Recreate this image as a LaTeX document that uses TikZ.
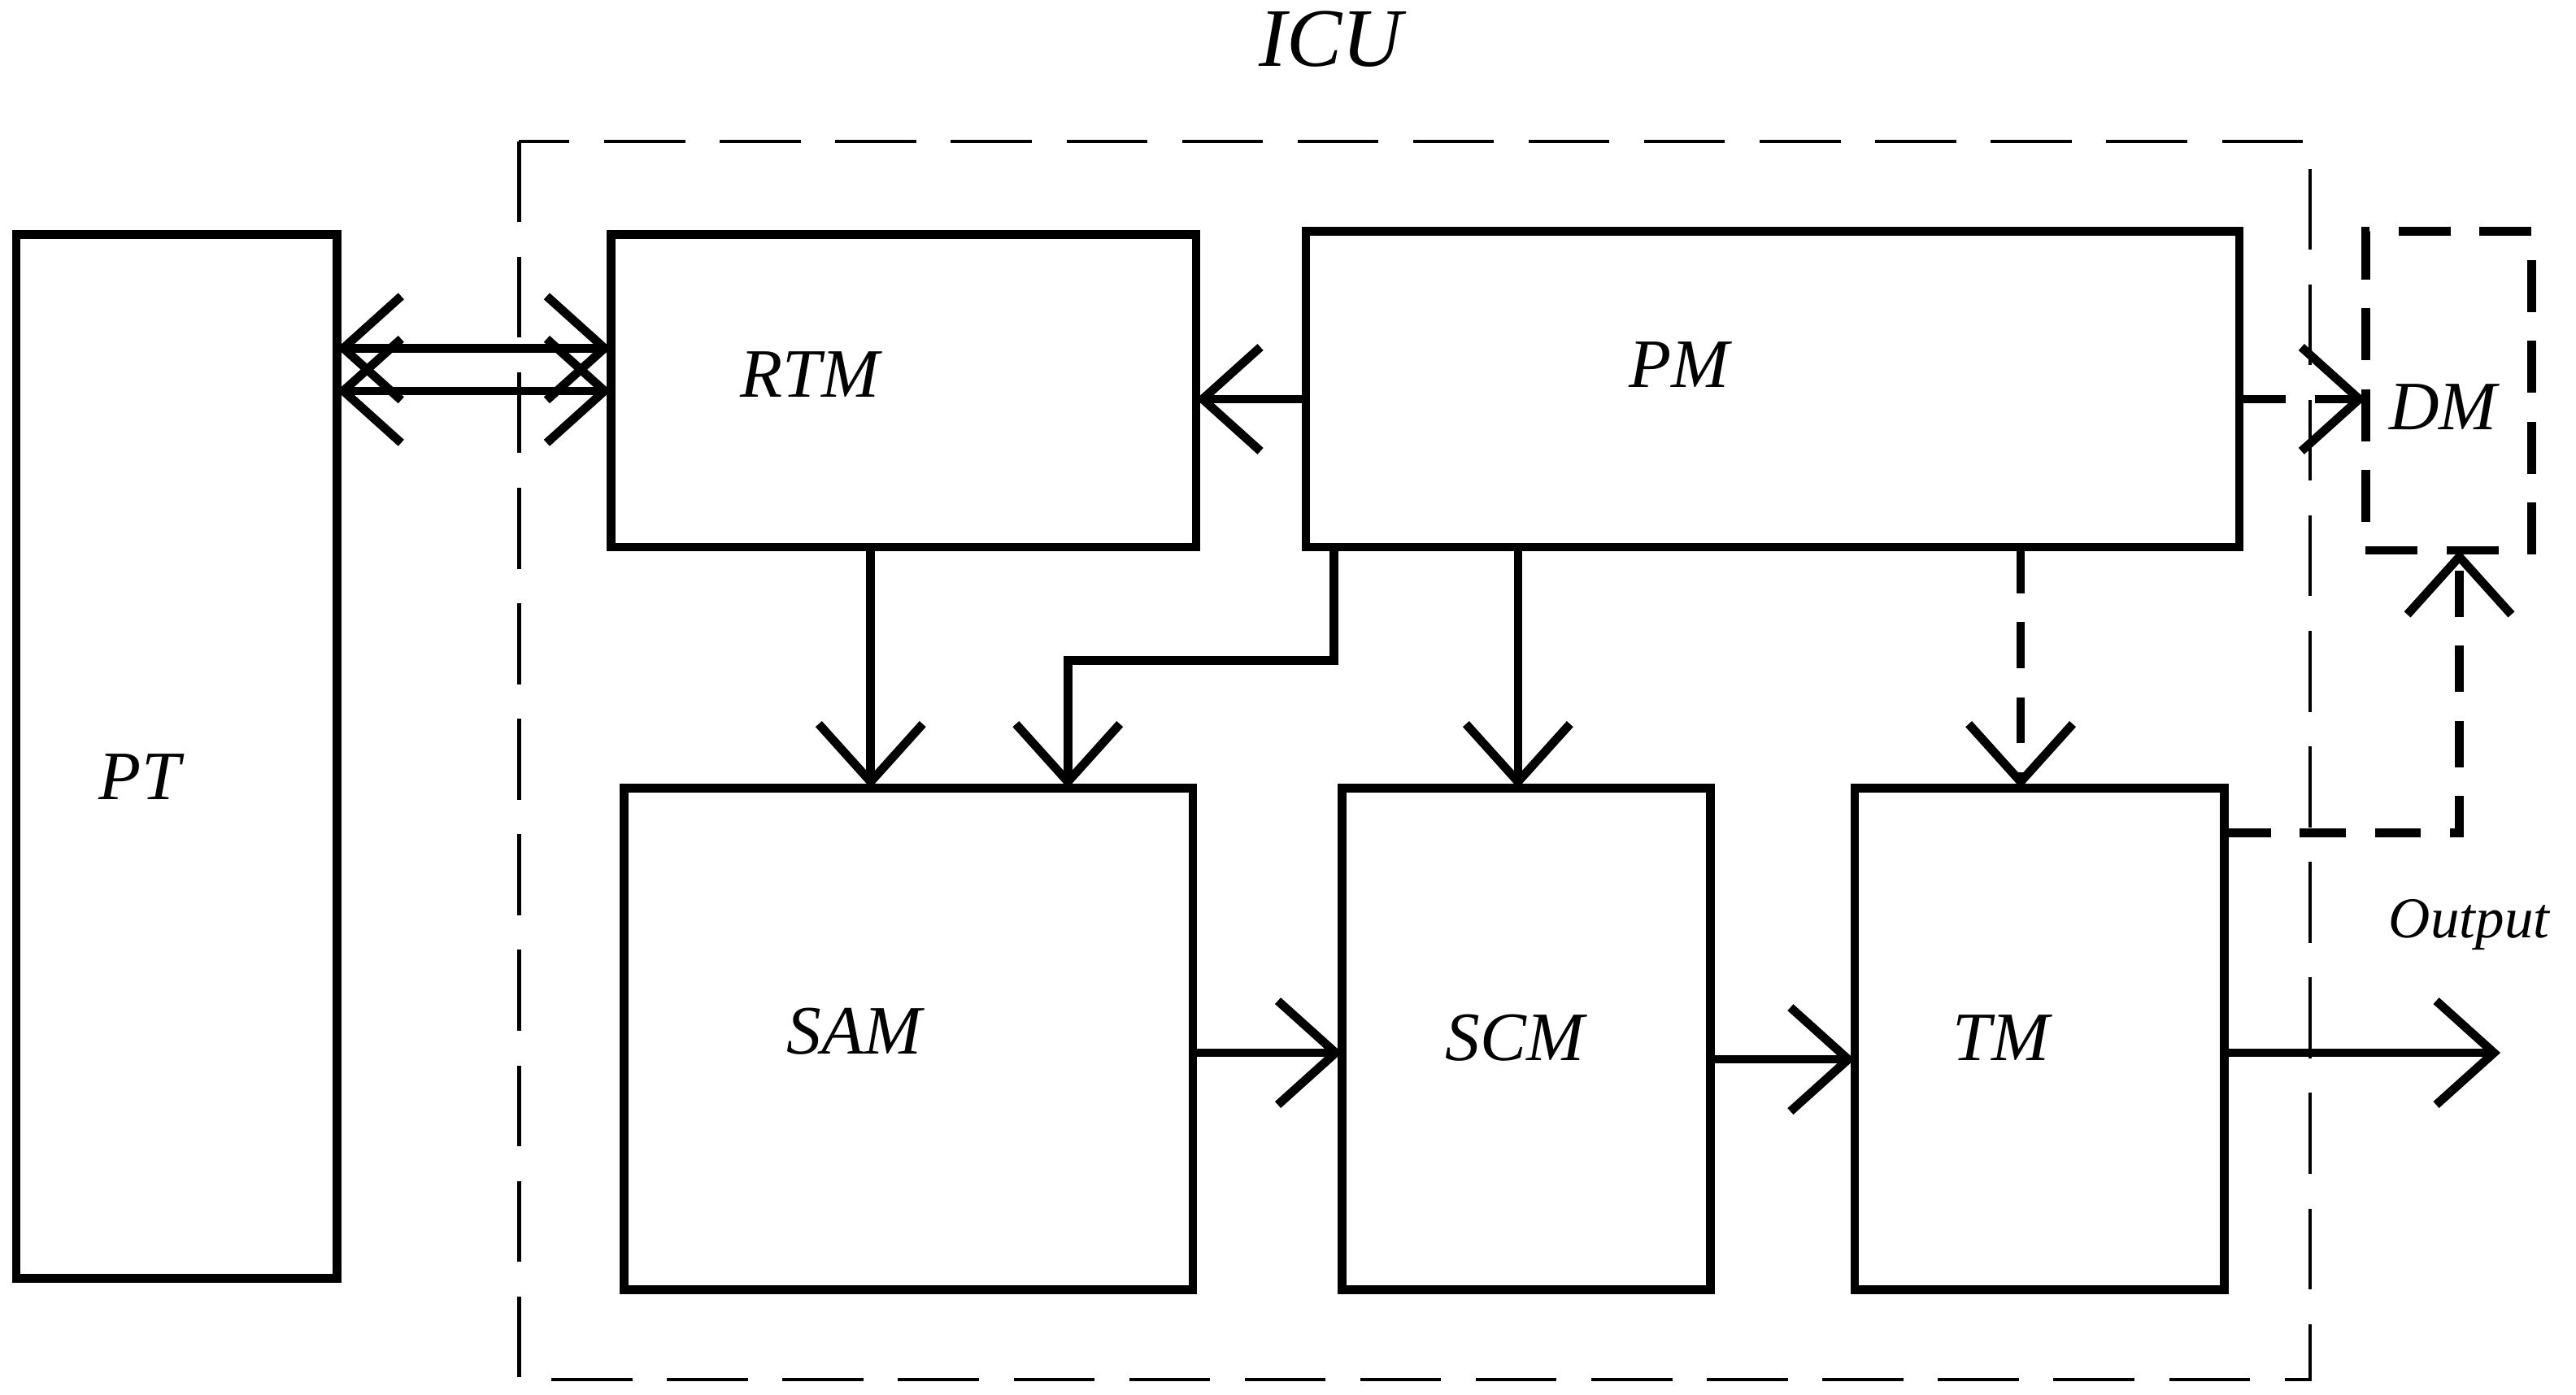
\documentclass[tikz,border=0pt]{standalone}
\usepackage{fontspec}
\setmainfont{Liberation Serif}
\usetikzlibrary{arrows.meta}
\begin{document}
\begin{tikzpicture}[x=0.01cm,y=-0.01cm,
    blk/.style={draw,line width=1.5pt,inner sep=0pt,outer sep=0pt},
    lbl/.style={font=\large\itshape},
    con/.style={line width=1.5pt,-{Straight Barb[length=10pt,width=18pt,line width=1.5pt]}},
    dcon/.style={con,dash pattern=on 8pt off 5pt}]
  \useasboundingbox (0,0) rectangle (1568,849);
  % frame
  \draw[dash pattern=on 14pt off 6pt,line width=0.6pt] (316,86) rectangle (1406,840);
  \node[font=\Large\itshape] (icu) at (810,24) {ICU};
  % blocks
  \node[blk,minimum width=1.95cm,minimum height=6.35cm] (pt) at (107.5,460.5) {};
  \node[blk,minimum width=3.56cm,minimum height=1.90cm] (rtm) at (550,238) {};
  \node[blk,minimum width=5.68cm,minimum height=1.92cm] (pm) at (1079,237) {};
  \node[blk,dash pattern=on 9pt off 5pt,minimum width=1.01cm,minimum height=1.94cm] (dm) at (1490.5,238) {};
  \node[blk,minimum width=3.46cm,minimum height=3.05cm] (sam) at (553,632.5) {};
  \node[blk,minimum width=2.24cm,minimum height=3.05cm] (scm) at (929,632.5) {};
  \node[blk,minimum width=2.25cm,minimum height=3.05cm] (tm) at (1241.5,632.5) {};
  % labels
  \node[lbl] (ptl) at (85,473) {PT};
  \node[lbl] (rtml) at (493,228) {RTM};
  \node[lbl] (pml) at (1022,222) {PM};
  \node[lbl] (dml) at (1487,248) {DM};
  \node[lbl] (saml) at (520,628) {SAM};
  \node[lbl] (scml) at (922,632) {SCM};
  \node[lbl] (tml) at (1218,632) {TM};
  \node[font=\normalsize\itshape] (outl) at (1503,563) {Output};
  \coordinate (out) at (1522,641);
  % connectors
  \draw[con,{Straight Barb[length=10pt,width=18pt,line width=1.5pt]}-{Straight Barb[length=10pt,width=18pt,line width=1.5pt]}]
    (pt.east |- 0,212) -- (rtm.west |- 0,212);
  \draw[con,{Straight Barb[length=10pt,width=18pt,line width=1.5pt]}-{Straight Barb[length=10pt,width=18pt,line width=1.5pt]}]
    (pt.east |- 0,238) -- (rtm.west |- 0,238);
  \draw[con] (pm.west |- 0,243) -- (rtm.east |- 0,243);
  \draw[dcon] (pm.east |- 0,243) -- (dm.west |- 0,243);
  \draw[con] (rtm.south -| 530,0) -- (sam.north -| 530,0);
  \draw[con] (pm.south -| 812,0) -- (812,402) -- (650,402) -- (sam.north -| 650,0);
  \draw[con] (pm.south -| 924,0) -- (scm.north -| 924,0);
  \draw[dcon] (pm.south -| 1230,0) -- (tm.north -| 1230,0);
  \draw[dcon] (tm.east |- 0,507) -- (1497,507) -- (dm.south -| 1497,0);
  \draw[con] (sam.east |- 0,641) -- (scm.west |- 0,641);
  \draw[con] (scm.east |- 0,645) -- (tm.west |- 0,645);
  \draw[con] (tm.east |- 0,641) -- (out);
\end{tikzpicture}
\end{document}
